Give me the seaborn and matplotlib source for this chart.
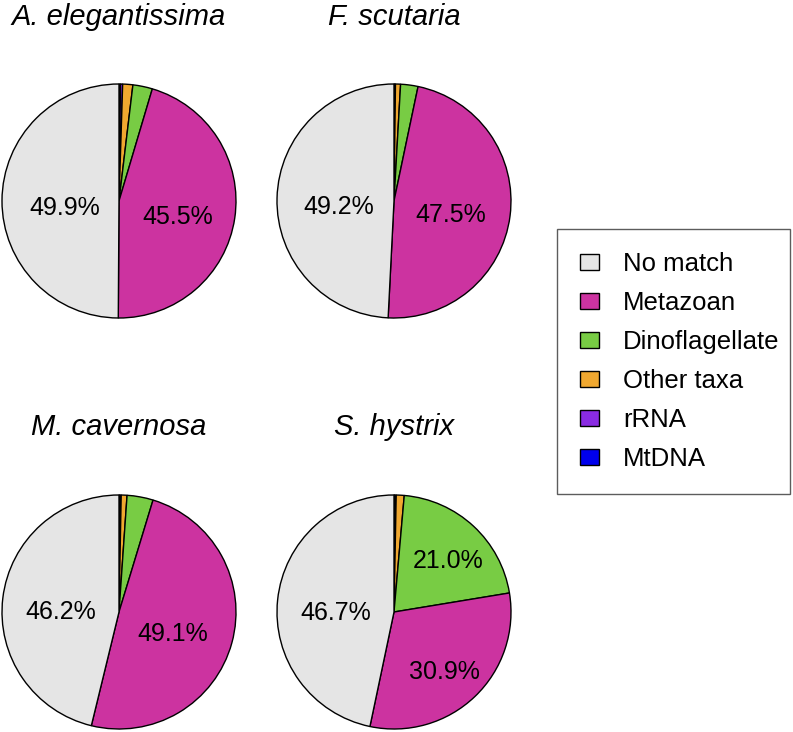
import numpy as np
import matplotlib
matplotlib.use("Agg")
import matplotlib.pyplot as plt
import seaborn as sns

sns.set_theme(style="white")
plt.rcParams['font.family'] = ['Liberation Sans', 'DejaVu Sans']
plt.rcParams['text.color'] = 'black'

# categories in drawing order (clockwise from 12 o'clock)
categories = ["MtDNA", "rRNA", "Other taxa", "Dinoflagellate", "Metazoan", "No match"]
colors = ["#0000ee", "#8a2be2", "#f0a830", "#78cc44", "#cc33a0", "#e5e5e5"]
legend_order = ["No match", "Metazoan", "Dinoflagellate", "Other taxa", "rRNA", "MtDNA"]

species = ["A. elegantissima", "F. scutaria", "M. cavernosa", "S. hystrix"]
a_eleg = [0.2, 0.3, 1.4, 2.7, 45.5, 49.9]
f_scut = [0.1, 0.1, 0.7, 2.4, 47.5, 49.2]
m_cave = [0.1, 0.2, 0.8, 3.6, 49.1, 46.2]
s_hyst = [0.1, 0.2, 1.1, 21.0, 30.9, 46.7]
values = [a_eleg, f_scut, m_cave, s_hyst]

W, H = 793, 732
fig = plt.figure(figsize=(W / 100, H / 100), dpi=100)

centers = [(119, 201), (394, 201), (119, 612), (394, 612)]
title_y = [17, 17, 427, 427]
r_px = 117
pad = 1.05

wedges_first = None
for name, vals, (cx, cy), ty in zip(species, values, centers, title_y):
    half = r_px * pad
    ax = fig.add_axes([(cx - half) / W, (H - cy - half) / H, 2 * half / W, 2 * half / H])
    wedges, _ = ax.pie(vals, colors=colors, startangle=90, counterclock=False,
                       wedgeprops=dict(edgecolor="black", linewidth=1.0))
    ax.set_xlim(-pad, pad)
    ax.set_ylim(-pad, pad)
    ax.set_aspect("equal")
    ax.axis("off")
    total = sum(vals)
    for w, v in zip(wedges, vals):
        frac = v / total
        if frac < 0.1:
            continue
        mid = np.deg2rad((w.theta1 + w.theta2) / 2)
        alpha = np.pi * frac
        d = 1.1 * 2 * np.sin(alpha) / (3 * alpha)
        ax.text(d * np.cos(mid), d * np.sin(mid) - 0.06, f"{v:.1f}%",
                ha="center", va="center", fontsize=18, color="black")
    fig.text(cx / W, 1 - ty / H, name, ha="center", va="center",
             fontsize=21, style="italic", color="black")
    if wedges_first is None:
        wedges_first = wedges

# legend box spans x 557..790 px, top at 229 px
lx0, lx1, ltop = 557, 790, 229
handles = [wedges_first[categories.index(c)] for c in legend_order]
leg = fig.legend(handles, legend_order, loc="upper left", mode="expand",
                 bbox_to_anchor=(lx0 / W, 0, (lx1 - lx0) / W, 1 - ltop / H),
                 bbox_transform=fig.transFigure,
                 fontsize=18.5, frameon=True, fancybox=False, borderpad=0.9,
                 labelspacing=0.58, handlelength=0.74, handleheight=0.58,
                 handletextpad=0.93, borderaxespad=0)
leg.get_frame().set_edgecolor("#333333")
leg.get_frame().set_linewidth(1.0)
for t in leg.get_texts():
    t.set_color("black")

fig.savefig("out.png", dpi=100)
